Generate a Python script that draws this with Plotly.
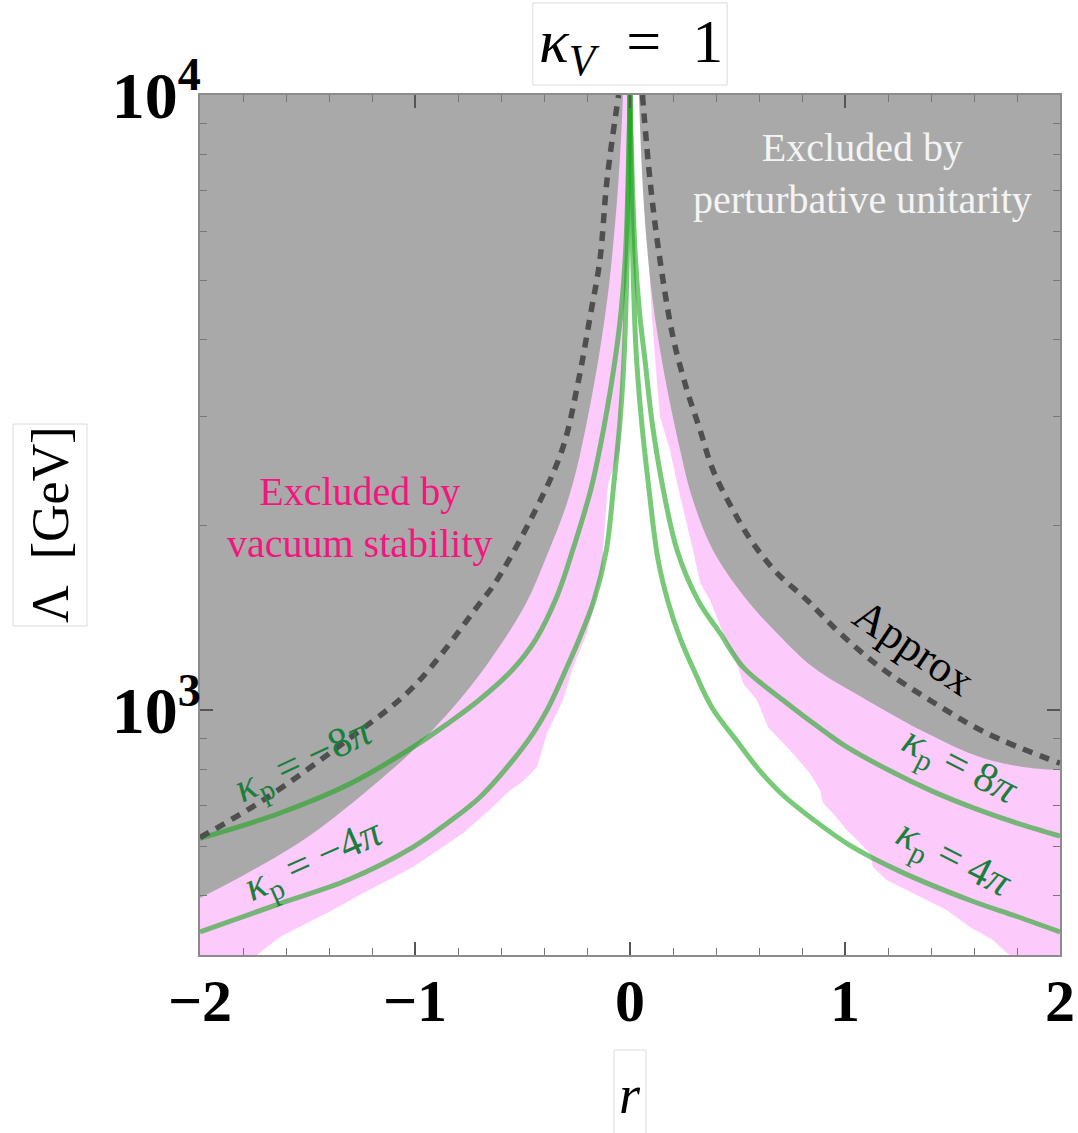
import math
import plotly.graph_objects as go

# ---------------- data ----------------
# Perturbative-unitarity exclusion boundary (lower edge of the grey region)
unit_left_r = [-2.0, -1.781, -1.474, -1.084, -1.009, -0.805, -0.651, -0.488, -0.386, -0.293, -0.233, -0.140, -0.084, -0.033]
unit_left_lam = [495, 543, 631, 814, 861, 1027, 1206, 1482, 1786, 2171, 2598, 3849, 5433, 10000]
unit_right_r = [0.042, 0.084, 0.140, 0.233, 0.293, 0.386, 0.544, 0.684, 0.851, 1.102, 1.381, 1.628, 1.814, 2.0]
unit_right_lam = [10000, 5433, 3849, 2648, 2195, 1820, 1510, 1334, 1175, 1038, 917, 839, 810, 799]

# Vacuum-stability exclusion boundary (edge of the allowed white region)
vac_left_r = [-1.735, -1.628, -1.474, -1.40, -1.242, -1.009, -0.90, -0.777, -0.65, -0.558, -0.50, -0.433, -0.386,
              -0.312, -0.265, -0.200, -0.172, -0.126, -0.126, -0.102, -0.047, -0.033, -0.019, -0.009]
vac_left_lam = [400, 428, 456, 470, 504, 556, 590, 631, 690, 741, 765, 808, 917,
                1038, 1175, 1334, 1454, 1708, 1820, 2339, 2648, 3849, 5433, 10000]
vac_right_r = [0.042, 0.084, 0.093, 0.102, 0.126, 0.140, 0.186, 0.219, 0.293, 0.326, 0.372, 0.451, 0.502, 0.526,
               0.591, 0.642, 0.744, 0.837, 0.884, 0.898, 0.944, 1.009, 1.056, 1.116, 1.130, 1.195, 1.316, 1.474,
               1.581, 1.688, 1.753, 1.767]
vac_right_lam = [10000, 5433, 4946, 4355, 3401, 2995, 2648, 2339, 1820, 1609, 1510, 1285, 1175, 1106,
                 1038, 938, 861, 790, 741, 706, 680, 638, 615, 585, 556, 529, 504, 473,
                 444, 423, 403, 400]

# Approximate unitarity bound (dashed)
approx_left_r = [-2.0, -1.707, -1.316, -1.009, -0.698, -0.628, -0.456, -0.316, -0.242, -0.186, -0.140, -0.107, -0.053]
approx_left_lam = [621, 714, 894, 1090, 1493, 1609, 2060, 2648, 3401, 4355, 5392, 7274, 10000]
approx_right_r = [0.058, 0.093, 0.135, 0.200, 0.265, 0.326, 0.386, 0.479, 0.572, 0.684, 0.823, 0.977, 1.163, 1.395, 1.660, 2.0]
approx_right_lam = [10000, 7274, 5530, 4042, 3314, 2853, 2456, 2115, 1868, 1671, 1510, 1334, 1175, 1038, 917, 820]

# Contours of constant kappa_p
kp_m8_r = [0.0, -0.02, -0.04, -0.07, -0.12, -0.18, -0.26, -0.34, -0.44, -0.55, -0.70, -0.85, -1.00, -1.30, -1.63, -2.0]
kp_m8_lam = [10000, 5600, 4500, 3700, 2900, 2300, 1850, 1530, 1300, 1160, 1040, 950, 875, 760, 680, 619]
kp_m4_r = [0.0, -0.012, -0.026, -0.045, -0.075, -0.11, -0.167, -0.233, -0.293, -0.386, -0.451, -0.55, -0.698, -0.85,
           -1.009, -1.316, -1.628, -2.0]
kp_m4_lam = [10000, 5600, 3850, 2995, 2339, 1820, 1510, 1314, 1175, 1000, 917, 825, 722, 655, 599, 529, 485, 436]
kp_p8_r = [0.0, 0.023, 0.045, 0.070, 0.102, 0.149, 0.219, 0.316, 0.419, 0.526, 0.712, 0.916, 1.0, 1.2, 1.4, 1.6, 1.8, 2.0]
kp_p8_lam = [10000, 5600, 4400, 3700, 2950, 2339, 1820, 1510, 1334, 1175, 1038, 917, 875, 800, 740, 693, 655, 624]
kp_p4_r = [0.0, 0.012, 0.028, 0.052, 0.085, 0.13, 0.177, 0.233, 0.298, 0.381, 0.498, 0.60, 0.707, 0.85, 1.023, 1.256,
           1.581, 1.80, 2.0]
kp_p4_lam = [10000, 5600, 3850, 2995, 2339, 1760, 1500, 1310, 1160, 1010, 890, 800, 730, 665, 603, 547, 491, 462, 436]

# Axis ranges and ticks
r_min, r_max = -2.0, 2.0
lam_min, lam_max = 400, 10000
x_major = [-2, -1, 0, 1, 2]
x_major_text = ["−2", "−1", "0", "1", "2"]
x_minor = [round(-2 + 0.2 * i, 1) for i in range(21) if i % 5 != 0]
y_major = [1000, 10000]
y_major_text = ["10<sup>3</sup>", "10<sup>4</sup>"]
y_minor = [500, 600, 700, 800, 900, 2000, 3000, 4000, 5000, 6000, 7000, 8000, 9000]

# anchors placed outside the visible window, used to close the smoothed grey polygons
r_out = 2.5
lam_out = 30000

# ---------------- styles ----------------
GREY = "#a9a9a9"
PINK = "#fccbfc"
GREEN_LINE = "rgba(30,165,30,0.6)"
GREEN_TEXT = "#1a7f3c"
DASH = "#4f4f4f"
SERIF = "Liberation Serif"
NB = "\u00a0"

fig = go.Figure()


def region(xs, ys, color, shape="linear"):
    fig.add_trace(go.Scatter(x=xs, y=ys, mode="lines", fill="toself", fillcolor=color,
                             line=dict(width=0, color=color, shape=shape, smoothing=1.0),
                             hoverinfo="skip", showlegend=False))


# vacuum-stability exclusion (pink), drawn under the grey region
region(vac_left_r + [r_min, r_min], vac_left_lam + [lam_max, lam_min], PINK)
region(vac_right_r + [r_max, r_max], vac_right_lam + [lam_min, lam_max], PINK)

# perturbative-unitarity exclusion (grey), smooth edge
region(unit_left_r + [unit_left_r[-1], -r_out, -r_out],
       unit_left_lam + [lam_out, lam_out, unit_left_lam[0]], GREY, "spline")
region([unit_right_r[0]] + unit_right_r + [r_out, r_out],
       [lam_out] + unit_right_lam + [unit_right_lam[-1], lam_out], GREY, "spline")

# kappa_p contours
for xs, ys in [(kp_m8_r, kp_m8_lam), (kp_m4_r, kp_m4_lam), (kp_p8_r, kp_p8_lam), (kp_p4_r, kp_p4_lam)]:
    fig.add_trace(go.Scatter(x=xs, y=ys, mode="lines",
                             line=dict(color=GREEN_LINE, width=5, shape="spline", smoothing=1.0),
                             hoverinfo="skip", showlegend=False))

# approximate bound
for xs, ys in [(approx_left_r, approx_left_lam), (approx_right_r, approx_right_lam)]:
    fig.add_trace(go.Scatter(x=xs, y=ys, mode="lines",
                             line=dict(color=DASH, width=5.5, dash="10px,8px", shape="spline", smoothing=1.0),
                             hoverinfo="skip", showlegend=False))

# ---------------- axes ----------------
axis_common = dict(
    showgrid=False, zeroline=False, showline=True, linecolor="#8c8c8c", linewidth=2,
    mirror="ticks", ticks="inside", ticklen=13, tickwidth=1.5, tickcolor="#555555",
    automargin=False,
)
fig.update_xaxes(range=[r_min, r_max], tickmode="array", tickvals=x_major,
                 ticktext=["<b>%s</b>" % t for t in x_major_text],
                 tickfont=dict(family=SERIF, size=60, color="black"),
                 minor=dict(tickmode="array", tickvals=x_minor, ticks="inside", ticklen=7,
                            tickwidth=1.2, tickcolor="#777777"),
                 ticklabelstandoff=-8, **axis_common)
fig.update_yaxes(type="log", range=[math.log10(lam_min), math.log10(lam_max)], tickmode="array",
                 tickvals=y_major, ticktext=["<b>%s</b>" % t for t in y_major_text],
                 tickfont=dict(family=SERIF, size=66, color="black"),
                 minor=dict(tickmode="array", tickvals=y_minor, ticks="inside", ticklen=7,
                            tickwidth=1.2, tickcolor="#777777"),
                 ticklabelstandoff=-16, **axis_common)


# ---------------- labels ----------------
def label(text, x, y, size, color="black", angle=0):
    fig.add_annotation(text=text, x=x, y=y, xref="paper", yref="paper", showarrow=False,
                       xanchor="center", yanchor="middle", textangle=angle,
                       font=dict(family=SERIF, size=size, color=color))


def frame(x0, x1, y0, y1):
    fig.add_shape(type="rect", xref="paper", yref="paper", x0=x0, x1=x1, y0=y0, y1=y1,
                  line=dict(color="#dcdcdc", width=1), fillcolor="white", layer="below")


# framed axis titles
frame(0.387, 0.613, 1.0116, 1.107)
frame(-0.2174, -0.1314, 0.3826, 0.6174)
frame(0.4814, 0.5186, -0.215, -0.1105)
label("<i>κ</i><sub><i>V</i></sub>" + NB * 2 + "=" + NB * 2 + "1", 0.501, 1.058, 62)
label("Λ" + NB * 2 + "[GeV]", -0.1744, 0.5, 52, angle=-90)
label("<i>r</i>", 0.5, -0.163, 54)

# region and curve annotations
label("Excluded by<br>perturbative unitarity", 0.770, 0.909, 40, color="#f4f4f4")
label("Excluded by<br>vacuum stability", 0.186, 0.509, 40, color="#f5157e")
label("Approx", 0.830, 0.358, 44, angle=34)
kp = "<i>κ</i><sub>p</sub>" + NB + "=" + NB
label(kp + "−8<i>π</i>", 0.121, 0.224, 42, color=GREEN_TEXT, angle=-25)
label(kp + "−4<i>π</i>", 0.132, 0.108, 42, color=GREEN_TEXT, angle=-24)
label(kp + "8<i>π</i>", 0.883, 0.219, 42, color=GREEN_TEXT, angle=27)
label(kp + "4<i>π</i>", 0.876, 0.111, 42, color=GREEN_TEXT, angle=27)

fig.update_layout(
    width=1078, height=1133,
    margin=dict(l=200, r=18, t=95, b=178),
    paper_bgcolor="white", plot_bgcolor="white",
    showlegend=False,
)

fig.write_html("out.html")
